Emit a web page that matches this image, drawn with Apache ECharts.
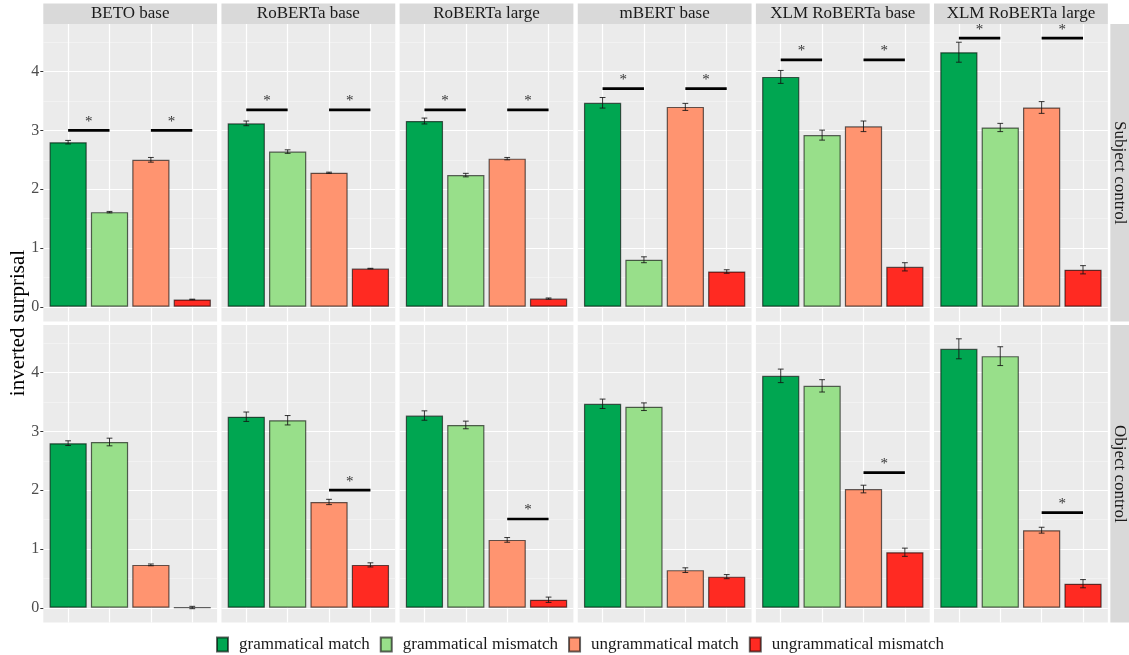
<!DOCTYPE html>
<html>
<head>
<meta charset="utf-8">
<script src="https://cdn.jsdelivr.net/npm/echarts@6/dist/echarts.min.js"></script>
<style>
  html, body { margin: 0; padding: 0; background: #ffffff; }
  #chart { width: 1129px; height: 655px; }
</style>
</head>
<body>
<div id="chart"></div>
<script>
// ---- data ----
const models = ['BETO base', 'RoBERTa base', 'RoBERTa large', 'mBERT base', 'XLM RoBERTa base', 'XLM RoBERTa large'];
const controls = ['Subject control', 'Object control'];
const conditions = ['grammatical match', 'grammatical mismatch', 'ungrammatical match', 'ungrammatical mismatch'];
const yTicks = [0, 1, 2, 3, 4];
const yMinorTicks = [0.5, 1.5, 2.5, 3.5, 4.5];
const xTicks = [0, 1, 2, 3];

// mean inverted surprisal per model (rows) and condition (columns)
const subjectMeans = [
  [2.80, 1.61, 2.50, 0.125],
  [3.12, 2.64, 2.28, 0.65],
  [3.16, 2.24, 2.52, 0.14],
  [3.47, 0.80, 3.40, 0.60],
  [3.91, 2.92, 3.07, 0.68],
  [4.33, 3.05, 3.39, 0.63]
];
const subjectErrors = [
  [0.03, 0.012, 0.04, 0.005],
  [0.04, 0.03, 0.01, 0.005],
  [0.05, 0.03, 0.02, 0.01],
  [0.09, 0.05, 0.06, 0.03],
  [0.11, 0.085, 0.09, 0.07],
  [0.17, 0.07, 0.10, 0.07]
];
const objectMeans = [
  [2.80, 2.82, 0.73, 0.005],
  [3.25, 3.19, 1.80, 0.73],
  [3.27, 3.11, 1.155, 0.137],
  [3.47, 3.42, 0.64, 0.53],
  [3.945, 3.775, 2.02, 0.945],
  [4.405, 4.28, 1.32, 0.41]
];
const objectErrors = [
  [0.04, 0.065, 0.015, 0.02],
  [0.08, 0.08, 0.045, 0.035],
  [0.08, 0.065, 0.04, 0.045],
  [0.08, 0.065, 0.04, 0.035],
  [0.115, 0.105, 0.065, 0.07],
  [0.17, 0.16, 0.05, 0.07]
];
// significance brackets: [model, from condition, to condition, bracket height]
const subjectSignif = [
  [0, 0, 1, 3.00], [0, 2, 3, 3.00],
  [1, 0, 1, 3.35], [1, 2, 3, 3.35],
  [2, 0, 1, 3.35], [2, 2, 3, 3.35],
  [3, 0, 1, 3.71], [3, 2, 3, 3.71],
  [4, 0, 1, 4.20], [4, 2, 3, 4.20],
  [5, 0, 1, 4.57], [5, 2, 3, 4.57]
];
const objectSignif = [
  [1, 2, 3, 2.00],
  [2, 2, 3, 1.51],
  [4, 2, 3, 2.30],
  [5, 2, 3, 1.62]
];

// ---- styling / layout ----
const colors = ['#00A651', '#98DF8A', '#FF9470', '#FF2A22'];
const FONT = '"Liberation Serif", "Times New Roman", serif';
const PANEL_LEFT = 43.3, PANEL_STEP = 178.15, PANEL_W = 173.8;
const ROW_TOP = [24, 325], PANEL_H = 297.5;
const X_MIN = -0.6, X_MAX = 3.6, Y_MIN = -0.25, Y_MAX = 4.81;
const BAR_W = PANEL_W / (X_MAX - X_MIN) * 0.9;
const CAP = 0.07;

const rowMeans = [subjectMeans, objectMeans];
const rowErrors = [subjectErrors, objectErrors];
const rowSignif = [subjectSignif, objectSignif];

const grids = [], xAxes = [], yAxes = [], series = [], graphics = [];

function renderErrorBar(params, api) {
  const x = api.value(0), m = api.value(1), e = api.value(2);
  const lo = api.coord([x, m - e]), hi = api.coord([x, m + e]);
  const cl = api.coord([x - CAP, m])[0], cr = api.coord([x + CAP, m])[0];
  const style = { stroke: 'rgba(20,20,20,0.85)', lineWidth: 1 };
  return {
    type: 'group',
    children: [
      { type: 'line', shape: { x1: lo[0], y1: lo[1], x2: hi[0], y2: hi[1] }, style },
      { type: 'line', shape: { x1: cl, y1: lo[1], x2: cr, y2: lo[1] }, style },
      { type: 'line', shape: { x1: cl, y1: hi[1], x2: cr, y2: hi[1] }, style }
    ]
  };
}

function renderSignif(params, api) {
  const a = api.value(0), b = api.value(1), h = api.value(2);
  const p1 = api.coord([a, h]), p2 = api.coord([b, h]);
  return {
    type: 'group',
    children: [
      { type: 'line', shape: { x1: p1[0], y1: p1[1], x2: p2[0], y2: p2[1] },
        style: { stroke: '#000000', lineWidth: 2.7 } },
      { type: 'text', x: (p1[0] + p2[0]) / 2, y: p1[1] - 1,
        style: { text: '*', fill: '#333333', font: '15px ' + FONT, align: 'center', verticalAlign: 'bottom' } }
    ]
  };
}

for (let r = 0; r < 2; r++) {
  for (let m = 0; m < models.length; m++) {
    const g = r * models.length + m;
    const left = PANEL_LEFT + m * PANEL_STEP;
    grids.push({
      left: left, top: ROW_TOP[r], width: PANEL_W, height: PANEL_H,
      show: true, backgroundColor: '#EBEBEB', borderWidth: 0
    });
    xAxes.push({
      type: 'value', gridIndex: g, min: X_MIN, max: X_MAX,
      axisLine: { show: false, onZero: false },
      axisTick: { show: false, customValues: xTicks },
      axisLabel: { show: false, customValues: xTicks },
      splitLine: { show: true, lineStyle: { color: '#FFFFFF', width: 1.2 } }
    });
    // major gridlines + tick labels
    yAxes.push({
      type: 'value', gridIndex: g, min: Y_MIN, max: Y_MAX, position: 'left',
      axisLine: { show: false, onZero: false },
      axisTick: { show: m === 0, length: 3, customValues: yTicks, lineStyle: { color: '#333333', width: 1 } },
      axisLabel: { show: m === 0, customValues: yTicks, margin: 4, color: '#4D4D4D', fontSize: 16, fontFamily: FONT },
      splitLine: { show: true, lineStyle: { color: '#FFFFFF', width: 1.2 } }
    });
    // minor gridlines
    yAxes.push({
      type: 'value', gridIndex: g, min: Y_MIN, max: Y_MAX, position: 'left',
      axisLine: { show: false, onZero: false },
      axisTick: { show: false, customValues: yMinorTicks },
      axisLabel: { show: false, customValues: yMinorTicks },
      splitLine: { show: true, lineStyle: { color: '#F7F7F7', width: 0.6 } }
    });

    const means = rowMeans[r][m], errs = rowErrors[r][m];
    for (let k = 0; k < conditions.length; k++) {
      series.push({
        type: 'bar', name: conditions[k],
        xAxisIndex: g, yAxisIndex: 2 * g,
        data: [[k, means[k]]],
        barWidth: BAR_W, barGap: '-100%',
        itemStyle: { color: colors[k], borderColor: 'rgba(0,0,0,0.6)', borderWidth: 1.2 },
        silent: true, animation: false, z: 2
      });
    }
    series.push({
      type: 'custom', coordinateSystem: 'cartesian2d',
      xAxisIndex: g, yAxisIndex: 2 * g,
      data: means.map((v, k) => [k, v, errs[k]]),
      renderItem: renderErrorBar, silent: true, animation: false, z: 3
    });
    const sig = rowSignif[r].filter(s => s[0] === m).map(s => [s[1], s[2], s[3]]);
    if (sig.length) {
      series.push({
        type: 'custom', coordinateSystem: 'cartesian2d',
        xAxisIndex: g, yAxisIndex: 2 * g,
        data: sig, renderItem: renderSignif, silent: true, animation: false, z: 4
      });
    }

    // facet strip on top of the upper row
    if (r === 0) {
      graphics.push({
        type: 'rect', left: left, top: 3.5, silent: true,
        shape: { width: PANEL_W, height: ROW_TOP[0] - 3.5 },
        style: { fill: '#D9D9D9' }
      });
      graphics.push({
        type: 'text', x: left + PANEL_W / 2, y: 14, silent: true,
        style: { text: models[m], fill: '#1A1A1A', font: '17px ' + FONT, align: 'center', verticalAlign: 'middle' }
      });
    }
  }
  // facet strip on the right side of each row
  const stripX = PANEL_LEFT + 5 * PANEL_STEP + PANEL_W + 2.5;
  graphics.push({
    type: 'rect', left: stripX, top: ROW_TOP[r], silent: true,
    shape: { width: 1129 - stripX, height: PANEL_H },
    style: { fill: '#D9D9D9' }
  });
  graphics.push({
    type: 'text', x: stripX + (1129 - stripX) / 2, y: ROW_TOP[r] + PANEL_H / 2,
    rotation: -Math.PI / 2, silent: true,
    style: { text: controls[r], fill: '#1A1A1A', font: '17px ' + FONT, align: 'center', verticalAlign: 'middle' }
  });
}

// y axis title
graphics.push({
  type: 'text', x: 18, y: 323, rotation: Math.PI / 2, silent: true,
  style: { text: 'inverted surprisal', fill: '#000000', font: '21px ' + FONT, align: 'center', verticalAlign: 'middle' }
});

const chart = echarts.init(document.getElementById('chart'), null, { renderer: 'canvas' });
chart.setOption({
  animation: false,
  backgroundColor: '#FFFFFF',
  grid: grids,
  xAxis: xAxes,
  yAxis: yAxes,
  series: series,
  graphic: graphics,
  legend: {
    data: conditions,
    left: 216, top: 636, padding: 0,
    itemWidth: 11, itemHeight: 14, itemGap: 10,
    icon: 'rect',
    selectedMode: false,
    textStyle: { fontFamily: FONT, fontSize: 17, color: '#1A1A1A', padding: [0, 0, 0, 6] }
  }
});
</script>
</body>
</html>
